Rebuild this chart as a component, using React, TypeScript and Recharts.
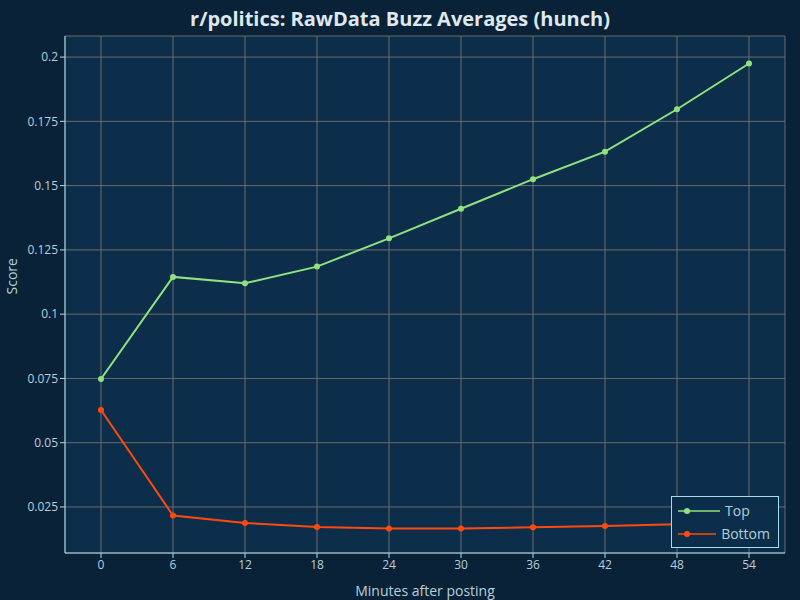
import React from "react";
import { LineChart, Line, XAxis, YAxis, CartesianGrid } from "recharts";

const minutes = [0, 6, 12, 18, 24, 30, 36, 42, 48, 54];
const topScores = [0.0748, 0.1145, 0.112, 0.1185, 0.1295, 0.141, 0.1525, 0.1632, 0.1797, 0.1975];
const bottomScores = [0.0627, 0.0217, 0.0188, 0.0172, 0.0166, 0.0166, 0.0171, 0.0176, 0.0183, 0.019];
const yTicks = [0.025, 0.05, 0.075, 0.1, 0.125, 0.15, 0.175, 0.2];

const data = minutes.map((m, i) => ({ m, Top: topScores[i], Bottom: bottomScores[i] }));

const font = "'Open Sans', 'Noto Sans', sans-serif";
const axisColor = "#a9dcec";
const tickColor = "#b7cfdc";

const LegendBox = () => (
  <div
    style={{
      position: "absolute",
      left: 671,
      top: 496,
      border: `1px solid ${axisColor}`,
      background: "#0c2e4a",
      padding: "2px 8px 2px 6px",
      fontFamily: font,
      fontSize: 14,
      color: "#b7cfdc",
      width: 92,
    }}
  >
    {[
      ["Top", "#8ee27f"],
      ["Bottom", "#ff4a0e"],
    ].map(([name, c]) => (
      <div key={name} style={{ display: "flex", alignItems: "center", height: 23 }}>
        <svg width={42} height={10} style={{ marginRight: 5 }}>
          <line x1={0} y1={5} x2={42} y2={5} stroke={c} strokeWidth={1.5} />
          <circle cx={9} cy={5} r={3} fill={c} />
        </svg>
        {name}
      </div>
    ))}
  </div>
);

export default function App() {
  return (
    <div style={{ position: "fixed", left: 0, top: 0, width: 800, height: 600, background: "#0a2237" }}>
      <div
        style={{
          position: "absolute",
          top: 5,
          width: 800,
          textAlign: "center",
          fontFamily: font,
          fontWeight: "bold",
          fontSize: 20,
          color: "#dfe8ee",
        }}
      >
        r/politics: RawData Buzz Averages (hunch)
      </div>
      <LineChart width={800} height={600} data={data} margin={{ top: 36, right: 15, bottom: 0, left: 0 }}>
        <CartesianGrid stroke="#6b6b6b" fill="#0c2e4a" />
        <XAxis
          dataKey="m"
          type="number"
          domain={[-3, 57]}
          ticks={minutes}
          height={47}
          stroke={axisColor}
          tick={{ fill: tickColor, fontSize: 12, fontFamily: font }}
          tickSize={5}
          label={{ value: "Minutes after posting", position: "insideBottom", offset: 4, fill: tickColor, fontSize: 14, fontFamily: font }}
        />
        <YAxis
          type="number"
          domain={[0.0071, 0.2082]}
          ticks={yTicks}
          width={65}
          stroke={axisColor}
          tick={{ fill: tickColor, fontSize: 12, fontFamily: font }}
          tickSize={5}
          tickFormatter={(v) => String(v)}
          label={{ value: "Score", angle: -90, position: "insideLeft", offset: 12, fill: tickColor, fontSize: 14, fontFamily: font }}
        />
        <Line dataKey="Top" stroke="#8ee27f" strokeWidth={2} dot={{ r: 2, fill: "#8ee27f", stroke: "#8ee27f" }} isAnimationActive={false} />
        <Line dataKey="Bottom" stroke="#ff4a0e" strokeWidth={2} dot={{ r: 2, fill: "#ff4a0e", stroke: "#ff4a0e" }} isAnimationActive={false} />
      </LineChart>
      <LegendBox />
    </div>
  );
}
